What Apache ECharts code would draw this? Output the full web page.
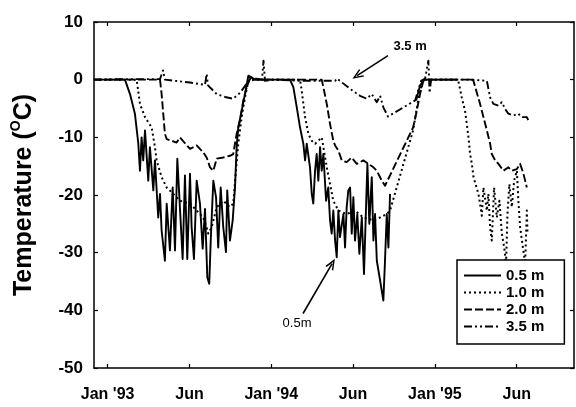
<!DOCTYPE html>
<html>
<head>
<meta charset="utf-8">
<script src="https://cdn.jsdelivr.net/npm/echarts@6/dist/echarts.min.js"></script>
<style>html,body{margin:0;padding:0;background:#fff}#c{width:576px;height:407px}</style>
</head>
<body>
<div id="c"></div>
<script>
// x = months since 1 Jan 1993, y = temperature (°C)
var seriesNames = ['0.5 m', '1.0 m', '2.0 m', '3.5 m'];
var tickMonths = [0, 6, 12, 18, 24, 30];
var tickLabels = ["Jan '93", 'Jun', "Jan '94", 'Jun', "Jan '95", 'Jun'];
var yTicks = [-50, -40, -30, -20, -10, 0, 10];

var d05 = [[-1.01,0],[1.27,0],[1.64,-2.5],[2.00,-5.9],[2.25,-11.1],[2.37,-15.8],[2.49,-10.0],[2.61,-14.0],[2.74,-8.8],[2.98,-17.5],[3.10,-11.7],[3.35,-19.2],[3.47,-14.0],[3.71,-23.9],[3.84,-19.8],[3.96,-26.2],[4.20,-31.4],[4.33,-21.5],[4.57,-29.6],[4.77,-18.7],[4.94,-29.6],[5.11,-13.7],[5.30,-22.1],[5.50,-31.1],[5.67,-16.6],[5.84,-31.1],[6.04,-16.3],[6.16,-25.6],[6.33,-31.1],[6.53,-17.5],[6.77,-21.5],[6.97,-29.3],[7.14,-22.4],[7.31,-34.3],[7.45,-35.4],[7.56,-27.9],[7.75,-17.5],[7.95,-20.4],[8.11,-29.1],[8.29,-18.7],[8.48,-25.6],[8.68,-29.9],[8.77,-19.2],[8.97,-27.9],[9.17,-24.4],[9.34,-18.7],[9.46,-11.7],[9.58,-8.3],[9.83,-5.4],[10.07,-2.5],[10.32,0.7],[10.81,0],
  [13.37,0],[13.62,-1.3],[13.87,-4.8],[14.11,-8.3],[14.35,-11.1],[14.48,-14.0],[14.60,-11.1],[14.84,-15.2],[14.97,-19.8],[15.08,-21.5],[15.21,-15.8],[15.33,-12.9],[15.45,-17.5],[15.58,-11.7],[15.70,-15.8],[15.82,-12.9],[16.02,-21.0],[16.18,-18.7],[16.31,-24.4],[16.43,-26.7],[16.55,-22.7],[16.68,-27.9],[16.80,-30.8],[16.92,-22.7],[17.04,-27.3],[17.29,-23.3],[17.41,-29.1],[17.53,-22.1],[17.65,-19.2],[17.78,-18.7],[17.90,-26.7],[18.02,-20.4],[18.14,-27.9],[18.31,-23.3],[18.46,-30.2],[18.64,-23.9],[18.80,-33.7],[18.95,-22.1],[19.05,-14.6],[19.19,-25.0],[19.37,-16.9],[19.49,-27.9],[19.61,-23.3],[19.74,-31.4],[19.98,-34.8],[20.10,-36.6],[20.22,-38.3],[20.34,-31.4],[20.47,-23.3],[20.59,-29.1],[20.71,-19.8],[21.60,null],
  [22.62,-3.6],[22.91,-1.0],[23.21,0],[25.60,0]];

var d10 = [[-1.01,0],[2.13,0],[2.37,-4.2],[2.74,-6.5],[3.23,-8.3],[3.47,-11.7],[3.59,-14.0],[3.96,-16.9],[4.33,-18.7],[4.81,-19.8],[5.30,-21.0],[6.04,-21.5],[6.53,-22.7],[7.01,-23.9],[7.26,-25.6],[7.38,-26.7],[7.63,-25.6],[8.00,-22.1],[8.48,-21.0],[8.97,-22.1],[9.21,-21.5],[9.41,-15.8],[9.58,-11.1],[9.83,-6.5],[10.07,-3.1],[10.32,-0.2],[10.81,0],
  [14.11,0],[14.23,-1.9],[14.48,-6.5],[14.72,-9.4],[14.97,-10.6],[15.21,-11.1],[15.45,-10.6],[15.70,-10.0],[15.82,-11.7],[16.07,-15.2],[16.31,-18.1],[16.55,-21.0],[16.92,-22.7],[17.53,-23.3],[18.14,-22.7],[18.75,-23.9],[19.49,-24.4],[19.98,-23.9],[20.47,-23.3],[20.71,-22.7],[22.40,-8.8],[22.77,-3.6],[23.06,-0.5],[23.28,0],
  [25.70,0],[25.97,-3.1],[26.21,-5.4],[26.34,-7.7],[26.46,-10.0],[26.58,-12.9],[26.71,-14.6],[26.83,-16.9],[27.19,-19.8],[27.31,-21.5],[27.44,-23.6],[27.56,-18.7],[27.81,-22.7],[27.92,-19.8],[28.05,-25.6],[28.17,-27.9],[28.34,-18.7],[28.54,-23.9],[28.73,-21.0],[28.91,-26.7],[29.08,-29.1],[29.22,-31.9],[29.32,-23.3],[29.46,-18.1],[29.64,-22.1],[29.81,-17.5],[30.01,-15.8],[30.12,-21.0],[30.25,-25.6],[30.45,-29.1],[30.62,-31.9],[30.74,-22.7],[30.79,-26.7]];

var d20 = [[-1.01,0],[3.84,0],[3.96,-2.5],[4.20,-9.4],[4.33,-10.3],[5.06,-10.9],[5.30,-10.0],[6.04,-12.0],[6.53,-11.4],[7.01,-12.6],[7.26,-13.5],[7.51,-15.2],[7.75,-15.8],[8.00,-13.7],[8.48,-13.5],[8.97,-13.2],[9.21,-12.9],[9.46,-9.4],[9.71,-7.1],[9.95,-3.6],[10.20,-1.3],[10.45,0.2],[10.81,0],
  [15.70,0],[15.82,-1.3],[16.07,-4.2],[16.31,-7.7],[16.55,-10.6],[16.68,-11.4],[16.92,-12.3],[17.17,-14.0],[17.53,-14.3],[17.90,-13.5],[18.27,-14.6],[18.75,-14.0],[19.12,-14.6],[19.49,-15.2],[19.74,-15.8],[20.10,-17.5],[20.34,-18.4],[20.47,-18.7],[22.40,-8.3],[22.67,-5.4],[22.91,-2.5],[23.15,-0.2],[23.35,0],
  [26.80,0],[27.31,-4.2],[27.56,-6.5],[27.81,-8.8],[28.05,-11.1],[28.17,-12.9],[28.42,-14.0],[28.66,-14.6],[29.02,-15.8],[29.39,-15.2],[29.64,-15.8],[30.01,-15.5],[30.25,-14.6],[30.49,-16.3],[30.74,-18.7]];

var d35 = [[-1.01,0],[1.27,0.1],[3.84,0.1],[4.06,1.6],[4.20,0],[6.04,-0.5],[7.14,-0.9],[7.26,1.0],[7.36,-1.0],[8.00,-2.5],[8.61,-3.0],[9.20,-3.3],[9.71,-2.3],[10.20,-0.7],[10.45,0.4],[11.32,0],[11.43,3.3],[11.54,-0.2],[12.27,0],[14.11,-0.2],[16.68,-0.2],[16.82,0.2],[17.78,-1.6],[18.51,-2.8],[19.00,-3.3],[19.37,-2.5],[19.74,-3.9],[19.98,-2.8],[20.22,-4.8],[20.56,-6.4],[22.55,-3.6],[22.99,-0.2],[23.28,0.2],[23.52,3.3],[23.61,-2.3],[23.72,0],[26.58,0],[27.81,-0.2],[28.05,-3.1],[28.29,-4.2],[28.66,-4.5],[28.91,-3.9],[29.15,-5.1],[29.39,-5.9],[29.76,-6.2],[30.12,-5.9],[30.37,-6.5],[30.74,-6.5],[30.86,-7.1]];

// annotations (data coordinates)
var arrow35 = [[20.56, 4.16], [18.29, 0.69]];
var label35 = [22.18, 5.72];
var arrow05 = [[14.33, -40.55], [16.46, -31.9]];
var label05 = [13.89, -42.29];

var FONT = "'Liberation Sans', Arial, Helvetica, sans-serif";
var chart = echarts.init(document.getElementById('c'), null, {renderer: 'canvas'});
var vHead = 'path://M5,0 L10,12 L8.3,12 L5,4 L1.7,12 L0,12 Z';

function lineSeries(name, data, type, width) {
  return {
    name: name, type: 'line', data: data, symbol: 'none', showSymbol: false,
    connectNulls: false, animation: false, silent: true,
    lineStyle: {color: '#000', width: width, type: type, cap: 'butt', join: 'round'},
    itemStyle: {color: '#000'}
  };
}
function arrowLine(a) {
  return {
    silent: true, symbol: ['none', vHead], symbolSize: [9, 11],
    itemStyle: {color: '#000'},
    lineStyle: {color: '#000', width: 1.6, type: 'solid'},
    label: {show: false}, emphasis: {disabled: true},
    data: [[{coord: a[0]}, {coord: a[1]}]]
  };
}
function labelPoint(c, txt, weight, size) {
  return {
    silent: true, symbol: 'rect', symbolSize: 1, itemStyle: {color: 'rgba(0,0,0,0)'},
    label: {show: true, position: 'inside', formatter: txt, color: '#000',
      fontFamily: FONT, fontWeight: weight, fontSize: size},
    data: [{coord: c}]
  };
}

var s05 = lineSeries(seriesNames[0], d05, 'solid', 1.9);
s05.markLine = arrowLine(arrow05);
s05.markPoint = labelPoint(label05, '0.5m', 'normal', 13);
var s10 = lineSeries(seriesNames[1], d10, [2, 3], 2);
var s20 = lineSeries(seriesNames[2], d20, [8, 3], 1.9);
var s35 = lineSeries(seriesNames[3], d35, [8, 3, 2, 3, 2, 3], 1.9);
s35.markLine = arrowLine(arrow35);
s35.markPoint = labelPoint(label35, '3.5 m', 'bold', 13);

var axisLineStyle = {show: true, onZero: false, lineStyle: {color: '#000', width: 1.5}};

chart.setOption({
  animation: false,
  backgroundColor: '#fff',
  grid: {left: 94, right: 2, top: 22, bottom: 39, containLabel: false},
  legend: {
    orient: 'vertical', left: 457, top: 260,
    itemWidth: 37, itemHeight: 14, itemGap: 2,
    borderColor: '#000', borderWidth: 1.5, borderRadius: 0,
    padding: [8, 20, 10, 6], backgroundColor: '#fff',
    itemStyle: {color: 'rgba(0,0,0,0)', borderWidth: 0, opacity: 0},
    textStyle: {fontFamily: FONT, fontSize: 15, fontWeight: 'bold', color: '#000', lineHeight: 15},
    data: seriesNames, selectedMode: false
  },
  xAxis: [{
    type: 'value', min: -1, max: 34.2, position: 'bottom',
    axisLine: axisLineStyle, splitLine: {show: false},
    axisTick: {show: true, inside: true, length: 4, customValues: tickMonths, lineStyle: {color: '#000', width: 1.2}},
    axisLabel: {show: true, customValues: tickMonths, margin: 19, color: '#000', fontFamily: FONT, fontSize: 16, fontWeight: 'bold',
      formatter: function (v) { var i = tickMonths.indexOf(Math.round(v)); return i >= 0 ? tickLabels[i] : ''; }}
  }, {
    type: 'value', min: -1, max: 34.2, position: 'top',
    axisLine: axisLineStyle, splitLine: {show: false},
    axisTick: {show: true, inside: true, length: 4, customValues: tickMonths, lineStyle: {color: '#000', width: 1.2}},
    axisLabel: {show: false}
  }],
  yAxis: [{
    type: 'value', min: yTicks[0], max: yTicks[yTicks.length - 1], interval: 10, position: 'left',
    axisLine: axisLineStyle, splitLine: {show: false},
    axisTick: {show: true, inside: true, length: 4, lineStyle: {color: '#000', width: 1.2}},
    axisLabel: {show: true, margin: 11, color: '#000', fontFamily: FONT, fontSize: 17, fontWeight: 'bold'},
    name: 'Temperature ({s|O}C)', nameLocation: 'middle', nameRotate: 90, nameGap: 55,
    nameTextStyle: {color: '#000', fontFamily: FONT, fontSize: 25, fontWeight: 'bold', lineHeight: 30,
      rich: {s: {fontSize: 14, fontFamily: FONT, fontWeight: 'bold', color: '#000', verticalAlign: 'top', lineHeight: 16}}}
  }, {
    type: 'value', min: yTicks[0], max: yTicks[yTicks.length - 1], interval: 10, position: 'right',
    axisLine: axisLineStyle, splitLine: {show: false},
    axisTick: {show: true, inside: true, length: 4, lineStyle: {color: '#000', width: 1.2}},
    axisLabel: {show: false}
  }],
  series: [s05, s10, s20, s35]
});
</script>
</body>
</html>
